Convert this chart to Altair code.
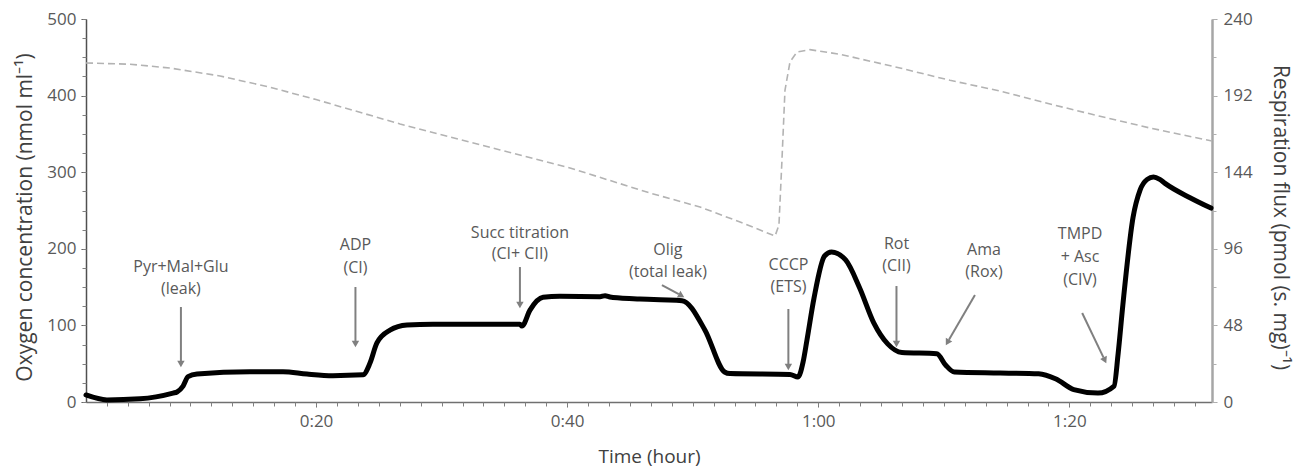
import math

import altair as alt
import numpy as np
import pandas as pd

# ---- oxygen concentration trace (nmol/ml), time in minutes ----
o2_time = [1.68, 5.19, 8.37, 12.36, 16.33, 20.0, 26.69, 34.66, 40.23, 46.6, 50.58,
           53.77, 55.76, 56.56, 56.87, 57.11, 57.35, 57.75, 58.31, 59.34, 61.73,
           66.51, 70.49, 74.48, 78.46, 82.44, 86.42, 91.36]
o2_conc = [442.6, 441.0, 436.0, 425.6, 411.0, 394.8, 363.0, 329.0, 305.5, 272.8, 254.6,
           235.0, 222.0, 216.7, 231.0, 316.0, 407.0, 444.0, 457.0, 460.0, 454.0,
           436.0, 420.0, 406.0, 389.0, 373.0, 357.7, 340.7]

# ---- respiration flux trace (pmol/(s.mg)), time in minutes ----
flux_time = [1.68, 3.35, 5.98, 8.61, 8.93, 9.41, 9.81, 10.52, 14.74, 17.37, 19.28,
             21.35, 23.74, 24.3, 24.85, 25.89, 27.24, 29.31, 36.24, 36.4, 37.04,
             38.08, 39.43, 42.62, 43.02, 43.41, 44.21, 45.8, 47.4, 49.15, 50.98,
             52.54, 52.97, 57.75, 58.39, 58.79, 59.1, 59.66, 60.5, 61.06, 62.18,
             63.29, 64.42, 65.53, 66.66, 69.44, 70.14, 70.84, 74.48, 77.55, 78.94,
             80.35, 82.28, 83.56, 83.88, 84.26, 85.07, 85.63, 86.2, 86.7, 87.2,
             87.62, 89.61, 91.28]
flux_val = [4.4, 1.3, 2.0, 5.6, 6.3, 10.0, 15.9, 17.5, 19.0, 19.0, 17.5,
            16.5, 17.0, 24.4, 37.0, 45.0, 48.2, 48.7, 48.7, 47.6, 57.6,
            65.6, 66.2, 66.0, 66.6, 65.8, 65.2, 64.6, 64.0, 63.5, 45.0,
            18.8, 17.8, 17.3, 15.7, 25.0, 38.8, 65.0, 91.5, 94.0, 89.0,
            71.6, 49.6, 36.4, 31.0, 30.3, 23.2, 18.8, 18.2, 17.7, 14.4,
            7.8, 5.6, 10.0, 30.0, 60.8, 115.6, 132.8, 139.5, 141.0, 139.5,
            137.0, 128.0, 121.5]

# ---- substrate / inhibitor injections (arrows in oxygen-axis units) ----
inj_labels = [["Pyr+Mal+Glu", "(leak)"],
              ["ADP", "(CI)"],
              ["Succ titration", "(CI+ CII)"],
              ["Olig", "(total leak)"],
              ["CCCP", "(ETS)"],
              ["Rot", "(CII)"],
              ["Ama", "(Rox)"],
              ["TMPD", "+ Asc", "(CIV)"]]
inj_label_time = [9.24, 23.14, 36.24, 48.03, 57.63, 66.23, 73.2, 80.85]
inj_label_level = [[176.2, 147.5],
                   [205.0, 175.0],
                   [220.6, 193.2],
                   [198.4, 169.7],
                   [178.9, 150.1],
                   [206.3, 177.5],
                   [198.4, 169.7],
                   [219.3, 189.3, 159.3]]
arrow_t_from = [9.24, 23.14, 36.24, 47.55, 57.62, 66.23, 72.48, 81.02]
arrow_v_from = [124.0, 150.1, 176.2, 152.7, 121.4, 151.4, 139.7, 116.2]
arrow_t_to = [9.24, 23.14, 36.24, 49.31, 57.62, 66.23, 70.17, 82.93]
arrow_v_to = [45.7, 71.8, 122.7, 137.0, 41.8, 71.8, 74.4, 50.9]

# ---- axes ----
X_DOMAIN = [1.68, 91.36]
O2_DOMAIN = [0, 500]
FLUX_DOMAIN = [0, 240]
x_major = [20, 40, 60, 80]
x_minor = [float(v) for v in np.arange(20 - 11 * 5 / 3, 92, 5 / 3)]
o2_major = [0, 100, 200, 300, 400, 500]
o2_minor = list(range(0, 501, 25))
flux_major = [0, 48, 96, 144, 192, 240]
flux_minor = list(range(0, 241, 24))

W, H = 1126, 383
FONT = "Open Sans"
GREY_TXT = "#595959"
ARROW = "#808080"

o2_df = pd.DataFrame({"t": o2_time, "v": o2_conc})
flux_df = pd.DataFrame({"t": flux_time, "f": flux_val})

rows = []
for t, lines, levels in zip(inj_label_time, inj_labels, inj_label_level):
    for txt, lv in zip(lines, levels):
        rows.append({"t": t, "v": lv, "label": txt})
text_df = pd.DataFrame(rows)

# arrow shafts and heads; head orientation follows the shaft on screen
px_t = W / (X_DOMAIN[1] - X_DOMAIN[0])
px_v = H / (O2_DOMAIN[1] - O2_DOMAIN[0])
arr_rows = []
for t1, v1, t2, v2 in zip(arrow_t_from, arrow_v_from, arrow_t_to, arrow_v_to):
    dx = (t2 - t1) * px_t
    dy = -(v2 - v1) * px_v
    L = math.hypot(dx, dy)
    ang = math.degrees(math.atan2(dx, -dy)) % 360
    back = 4.0 / L
    arr_rows.append({"t1": t1, "v1": v1, "t2": t2 - (t2 - t1) * back * 1.5,
                     "v2": v2 - (v2 - v1) * back * 1.5,
                     "ht": t2 - (t2 - t1) * back, "hv": v2 - (v2 - v1) * back,
                     "ang": ang})
arrow_df = pd.DataFrame(arr_rows)

xs = alt.Scale(domain=X_DOMAIN, nice=False, zero=False)
o2s = alt.Scale(domain=O2_DOMAIN, nice=False)
fls = alt.Scale(domain=FLUX_DOMAIN, nice=False)

label_expr = ("floor(datum.value / 60) + ':' + "
              "(datum.value % 60 < 10 ? '0' : '') + (datum.value % 60)")

o2_line = alt.Chart(o2_df).mark_line(
    color="#b3b3b3", strokeWidth=1.6, strokeDash=[7, 4]
).encode(
    x=alt.X("t:Q", scale=xs, axis=alt.Axis(
        orient="bottom", values=x_major, labelExpr=label_expr, title="Time (hour)",
        grid=False, tickSize=5, labelPadding=6, titlePadding=18, titleFontSize=19,
        domainColor="#707070", domainWidth=1.5, tickColor="#707070")),
    y=alt.Y("v:Q", scale=o2s, axis=alt.Axis(
        orient="left", values=o2_major, title="Oxygen concentration (nmol ml\u207b\u00b9)",
        grid=False, tickSize=5, labelPadding=5, titlePadding=11, titleY=198,
        domainColor="#505050", domainWidth=1.5, tickColor="#505050")),
)

flux_line = alt.Chart(flux_df).mark_line(
    color="black", strokeWidth=5, interpolate="monotone",
    strokeJoin="round", strokeCap="round"
).encode(
    x=alt.X("t:Q", scale=xs, axis=None),
    y=alt.Y("f:Q", scale=fls, axis=alt.Axis(
        orient="right", values=flux_major,
        title="Respiration flux (pmol (s. mg)\u207b\u00b9)",
        grid=False, tickSize=5, labelPadding=6, titlePadding=17, titleY=198,
        domainColor="#a6a6a6", domainWidth=2.5, tickColor="#a6a6a6")),
)

minor_left = alt.Chart(o2_df).mark_line(opacity=0).encode(
    x=alt.X("t:Q", scale=xs, axis=alt.Axis(
        orient="bottom", values=x_minor, labels=False, title=None, domain=False,
        grid=False, tickSize=4, tickColor="#808080", tickWidth=1)),
    y=alt.Y("v:Q", scale=o2s, axis=alt.Axis(
        orient="left", values=o2_minor, labels=False, title=None, domain=False,
        grid=False, tickSize=4, tickColor="#808080", tickWidth=1)),
)

minor_right = alt.Chart(flux_df).mark_line(opacity=0).encode(
    x=alt.X("t:Q", scale=xs, axis=None),
    y=alt.Y("f:Q", scale=fls, axis=alt.Axis(
        orient="right", values=flux_minor, labels=False, title=None, domain=False,
        grid=False, tickSize=4, tickColor="#b0b0b0", tickWidth=1)),
)

shafts = alt.Chart(arrow_df).mark_rule(color=ARROW, strokeWidth=2).encode(
    x=alt.X("t1:Q", scale=xs, axis=None),
    x2="t2:Q",
    y=alt.Y("v1:Q", scale=o2s, axis=None),
    y2="v2:Q",
)

heads = alt.Chart(arrow_df).mark_point(
    shape="triangle", filled=True, color=ARROW, size=55, opacity=1
).encode(
    x=alt.X("ht:Q", scale=xs, axis=None),
    y=alt.Y("hv:Q", scale=o2s, axis=None),
    angle=alt.Angle("ang:Q", scale=None),
)

labels = alt.Chart(text_df).mark_text(
    font=FONT, fontSize=16, color=GREY_TXT, align="center", baseline="middle"
).encode(
    x=alt.X("t:Q", scale=xs, axis=None),
    y=alt.Y("v:Q", scale=o2s, axis=None),
    text="label:N",
)

chart = alt.layer(
    o2_line, flux_line, minor_left, minor_right, shafts, heads, labels
).resolve_scale(
    y="independent"
).resolve_axis(
    x="independent", y="independent"
).properties(
    width=W, height=H,
    autosize=alt.AutoSizeParams(type="none"),
    padding={"left": 86, "top": 19, "right": 93, "bottom": 67},
    background="white",
).configure_view(
    stroke=None
).configure_axis(
    labelFont=FONT, titleFont=FONT, labelFontSize=17, titleFontSize=21,
    labelColor=GREY_TXT, titleColor="#404040", titleFontWeight="normal",
)

chart.save("out.html", embed_options={"renderer": "svg", "actions": False})
